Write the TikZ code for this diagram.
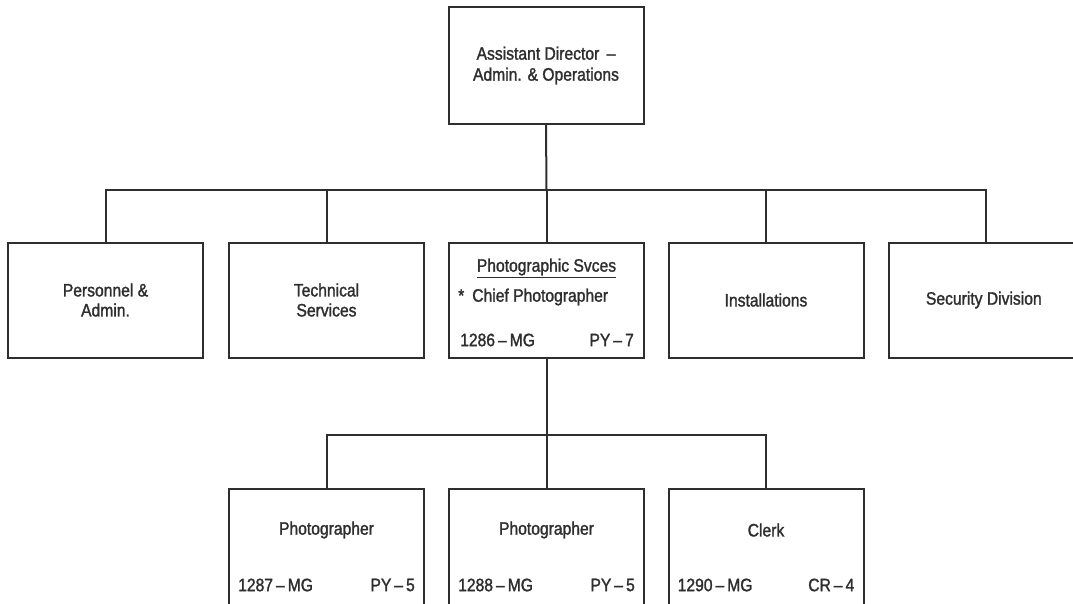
\documentclass[tikz,border=0pt]{standalone}
\usepackage{fontspec}
\setmainfont{Liberation Sans}[FakeStretch=0.87, FakeBold=1.5]
\usetikzlibrary{calc}
\definecolor{chartInk}{HTML}{2e2e2e}

\begin{document}
\begin{tikzpicture}[x=1pt, y=-1pt,
	unit/.style={draw=chartInk, line width=2pt, minimum width=195pt, minimum height=115pt, inner sep=0pt, text=chartInk, align=center, font=\fontsize{18}{20}\selectfont},
	txt/.style={text=chartInk, inner sep=0pt, font=\fontsize{18}{20}\selectfont},
	link/.style={draw=chartInk, line width=2pt}]
		\useasboundingbox (0,0) rectangle (1073,603);
		% top
		\node[unit, minimum height=117pt, font=\fontsize{18}{21}\selectfont] (ad) at (546,65.5) {Assistant Director \,--\\Admin. \& Operations};
		\coordinate (bus) at (546.5,190);
		% divisions
		\foreach \x /\nm/\name in {
			105.5/pers/{Personnel \&\\Admin.},
			326.5/tech/{Technical\\Services},
			546.5/photo/{},
			766/inst/Installations,
			986/sec/Security Division
		 }{
		 	\node[unit] (\nm) at (\x,300) {\name};
		 }
		 \node[txt] (phtitle) at (546.5,268) {\underline{Photographic Svces}};
		 \node[txt, anchor=west] (chief) at (458,297) {*\hspace{8pt}Chief Photographer};
		 \node[txt, anchor=west] (phcode) at (460,340) {1286\,--\,MG};
		 \node[txt, anchor=east] (phgrade) at (634,340) {PY\,--\,7};
		 \coordinate (sub) at (546.5,435);
		% staff
		 \foreach \x /\nm/\name/\code/\grade in {
			326.5/ph1/Photographer/1287/PY\,--\,5,
			546.5/ph2/Photographer/1288/PY\,--\,5,
			766/clerk/Clerk/1290/CR\,--\,4
		 }{
		 	\node[unit, minimum height=125pt, anchor=north] (\nm) at (\x,488) {};
		 	\node[txt] (\nm-t) at (\x,530) {\name};
		 	\node[txt, anchor=west] (\nm-c) at ($(\nm.north west)+(10,97)$) {\code\,--\,MG};
		 	\node[txt, anchor=east] (\nm-g) at ($(\nm.north east)+(-10,97)$) {\grade};
		 }
		 \draw[link] (ad.south) -- (bus);
		 \draw[link] (pers.north) |- (sec.north |- bus) -- (sec.north);
		 \foreach \nm in {tech, photo, inst}
		 {\draw[link] (\nm.north) -- (\nm.north |- bus);}
		 \draw[link] (photo.south) -- (sub);
		 \draw[link] (ph1.north) |- (clerk.north |- sub) -- (clerk.north);
		 \draw[link] (ph2.north) -- (ph2.north |- sub);
	\end{tikzpicture}
\end{document}
